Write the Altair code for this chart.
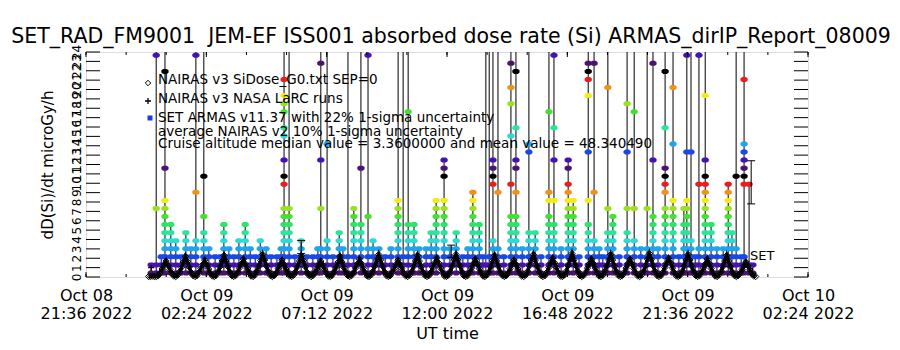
import altair as alt
import pandas as pd

FONT = "DejaVu Sans"
W, H = 722, 225

# ---------------- data ----------------
# quantised ARMAS dose-rate levels (microGy/h), read from the y positions of the dots
dose_levels = [0.43, 1.29, 2.15, 3.01, 3.87, 4.73, 5.59, 6.45, 7.31, 8.17, 9.03, 9.89,
               10.75, 11.61, 12.47, 13.33, 14.19, 15.05, 15.91, 16.77, 17.63, 18.49,
               19.35, 20.21, 21.07, 21.93, 22.79, 23.65]
spike_value = 300.0   # excursions far above the 24 microGy/h top of the axis

# ARMAS columns: minutes after 2022-10-09 00:00 UT, and the levels visited (S = off scale)
armas_minute = [12, 24, 36, 45, 59, 71, 83, 95, 107, 119,
                138, 150, 165, 177, 186, 198, 210, 222, 237, 249,
                261, 273, 287, 299, 313, 323, 330, 342, 356, 371,
                385, 399, 411, 418, 433, 447, 462, 471, 483, 497,
                514, 531, 543, 557, 572, 586, 603, 615, 627, 641,
                653, 670, 682, 694, 713, 727, 742, 758, 770, 782,
                797, 806, 813, 821, 830, 842, 856, 873, 885, 900,
                916, 931, 945, 964, 976, 993, 1010, 1022, 1036, 1058,
                1072, 1084, 1093, 1105, 1117, 1132, 1151, 1168, 1184, 1199,
                1213, 1225, 1242, 1261, 1275, 1287, 1294, 1304, 1314, 1323,
                1338, 1352, 1366, 1381, 1393, 1402, 1412, 1424, 1431, 1443, 1452]
armas_columns = [
    "0 1", "0 1 8 27 S", "0 1 2", "0 1 2 3 4 5 6 7 8 9 13 25 S", "0 1 2 3 4 5 6",
    "0 1 2 3 4", "0 1 2", "0 1 2 3 4 5", "0 1 2 3", "0 1 2 3 4 10 27 S",
    "0 1 2 3 4 5 7 12 S", "0 1 2 3", "0 1 2", "0 1 2", "0 1 2 3 4 5 6",
    "0 1 2 3", "0 1 2", "0 1 2 3 4", "0 1 2 3 4 5 6", "0 1 2 3",
    "0 1 2", "0 1 2 3 4", "0 1 2 3", "0 1 2", "0 1 2",
    "0 1 2 3", "0 1 2 3 4 5 6 7 8 11 12 14 17 18 20 21 22 24 S", "0 1 2 3 4 5 6 7 8 S", "0 1 2", "0 1 2 3 4",
    "0 1 2", "0 1 2", "0 1 2 3", "0 1 2 3 8 14 26 S", "0 1 2 3 4 16 S",
    "0 1 2", "0 1 2 3 4 5", "0 1 2 3", "0 1 2 S", "0 1 2 3 4 5 6 7 8",
    "0 1 2 3 4 5 6 13 S", "0 1 2 3 7 27 S", "0 1 2 3 4", "0 1 2 3", "0 1 2",
    "0 1 2 3", "0 1 2 3 4 5 6 7 8 9 S", "0 1 2 S", "0 1 2 3 4 5 6 20 S", "0 1 2 3 4 5 6",
    "0 1 2 3", "0 1 2 3", "0 1 2 3 4 5", "0 1 2 3 4 5 6 7 8 9", "0 1 2 3 4 5 6 7 8 9 12 13 14",
    "0 1 2 3", "0 1 2 3 4 5", "0 1 2", "0 1 2 3", "0 1 2 3 4 5 6 7 8 9 10",
    "0 1 2 3 4 5 6", "0 1 2", "0 1 S", "0 1 2 S", "0 1 2 3 4 11 12 13 14 S",
    "0 1 2 3 10 S", "0 1 2", "0 1 2 3 4 5 6 7 11 17 21 23 26 S", "0 1 2 3 4 5 6 7 10 13 14 18 25 S", "0 1 2 3",
    "0 1 2 3 4 5 15 16 S", "0 1 2 3 4 5", "0 1 2", "0 1 2 3 4 5 6 7 9 10 20 S", "0 1 2 3 4 5 6 9 14 18 27 S",
    "0 1 2 3", "0 1 2 3 4 5 6 7 8 9 10 11 13 14", "0 1 2 3 4 5 6 7 8 9", "0 1 2", "0 1 2 3 4 5 6 9 15 22 24 25 26 S",
    "0 1 2 3 4 10 26 S", "0 1 2 3", "0 1 2", "0 1 2 3 4 5 8 23 S", "0 1 2 3 4 5 6 7",
    "0 1 2", "0 1 2 3 4 5 8 15 21 S", "0 1 2 3 4 8 20 S", "0 1 2 3", "0 1 2 3 8 S",
    "0 1 2 3 4 5 6 7 14 26 S", "0 1 2 3", "0 1 2 3 4 5 6 7 8 10 11 12 13 18 25 S", "0 1 2 3 4 5 6 7 8 9 16 23 S", "0 1 2",
    "0 1 2 3 4 5 6 8", "0 1 2 3 4 5 6 7 8 9 15 27 S", "0 1 2 3 4 15 S", "0 1 2", "0 1 2 3 11 27 S",
    "0 1 2 3 4 5 6 7 8 9 10 11 12 14 22 S", "0 1 2 3 4 5 6", "0 1 2 3", "0 1 2 3", "0 1 2 3 4 5 6 7 8 9 10 11",
    "0 1 2 3 4 5", "0 1 2 3 12 S", "0 1 2", "0 1 2 11 12 13 14 15 16 24 S", "0 1 11", "0 1",
]

# NAIRAS v3 model (regular model cadence), one row per half-orbit hump
nairas_start_minute = 5.9
nairas_step_minute = 4.627
nairas_values = [
    0.05, 0.05, 0.10, 0.05,
    0.05, 0.15, 0.45, 0.85, 1.30, 1.70, 1.25, 0.80, 0.40, 0.10,
    0.05, 0.20, 0.55, 1.00, 1.60, 2.20, 1.65, 1.05, 0.50, 0.15,
    0.05, 0.15, 0.50, 0.90, 1.35, 1.80, 1.30, 0.85, 0.40, 0.10,
    0.05, 0.20, 0.60, 1.10, 1.70, 2.30, 1.70, 1.10, 0.55, 0.15,
    0.05, 0.15, 0.50, 0.95, 1.40, 1.90, 1.40, 0.90, 0.45, 0.10,
    0.05, 0.20, 0.60, 1.15, 1.75, 2.40, 1.80, 1.15, 0.55, 0.15,
    0.05, 0.15, 0.45, 0.90, 1.35, 1.80, 1.35, 0.85, 0.40, 0.10,
    0.05, 0.20, 0.55, 1.10, 1.70, 2.30, 1.75, 1.10, 0.50, 0.15,
    0.05, 0.15, 0.45, 0.85, 1.30, 1.70, 1.30, 0.80, 0.40, 0.10,
    0.05, 0.20, 0.55, 1.05, 1.60, 2.20, 1.60, 1.00, 0.50, 0.15,
    0.05, 0.15, 0.50, 0.95, 1.40, 1.90, 1.45, 0.90, 0.45, 0.10,
    0.05, 0.20, 0.60, 1.15, 1.80, 2.40, 1.80, 1.15, 0.55, 0.15,
    0.05, 0.15, 0.50, 0.90, 1.35, 1.80, 1.35, 0.90, 0.40, 0.10,
    0.05, 0.20, 0.55, 1.10, 1.70, 2.30, 1.70, 1.10, 0.50, 0.15,
    0.05, 0.15, 0.50, 1.00, 1.50, 2.00, 1.50, 0.95, 0.45, 0.10,
    0.05, 0.20, 0.60, 1.15, 1.80, 2.40, 1.80, 1.20, 0.55, 0.15,
    0.05, 0.15, 0.50, 0.95, 1.45, 1.90, 1.40, 0.90, 0.45, 0.10,
    0.05, 0.20, 0.55, 1.10, 1.75, 2.30, 1.70, 1.10, 0.50, 0.15,
    0.05, 0.15, 0.45, 0.90, 1.35, 1.80, 1.35, 0.85, 0.40, 0.10,
    0.05, 0.20, 0.60, 1.20, 1.80, 2.40, 1.80, 1.15, 0.55, 0.15,
    0.05, 0.15, 0.50, 1.00, 1.50, 2.00, 1.50, 1.00, 0.45, 0.10,
    0.05, 0.20, 0.60, 1.20, 1.85, 2.50, 1.85, 1.20, 0.60, 0.15,
    0.05, 0.15, 0.50, 0.95, 1.40, 1.90, 1.45, 0.95, 0.45, 0.10,
    0.05, 0.20, 0.60, 1.15, 1.80, 2.40, 1.80, 1.15, 0.55, 0.15,
    0.05, 0.15, 0.50, 0.95, 1.45, 1.90, 1.40, 0.90, 0.45, 0.10,
    0.05, 0.20, 0.60, 1.20, 1.90, 2.50, 1.85, 1.20, 0.60, 0.15,
    0.05, 0.15, 0.50, 1.00, 1.50, 2.00, 1.50, 0.95, 0.45, 0.10,
    0.05, 0.20, 0.60, 1.15, 1.80, 2.40, 1.80, 1.15, 0.55, 0.15,
    0.05, 0.15, 0.50, 0.95, 1.40, 1.90, 1.40, 0.90, 0.45, 0.10,
    0.05, 0.20, 0.55, 1.10, 1.70, 2.30, 1.70, 1.10, 0.50, 0.15,
    0.05, 0.15, 0.40, 0.80, 1.20, 1.60, 1.20, 0.75, 0.35, 0.10,
    0.05,
]

# NAIRAS v3 NASA LaRC runs
larc_minute = [12, 1445]
larc_value = [1.0, 0.9]

# 1-sigma uncertainty bars
err_minute = [371, 730, 1448]
err_low = [2.5, 2.1, 7.8]
err_high = [3.9, 3.4, 12.4]

# axis ticks (minutes after 2022-10-09 00:00 UT)
major_tick_minute = [-144, 144, 432, 720, 1008, 1296, 1584]
minor_tick_minute = [-144, -48, 48, 144, 240, 336, 432, 528, 624, 720, 816, 912,
                     1008, 1104, 1200, 1296, 1392, 1488, 1584]
y_ticks = list(range(0, 25))

title_text = "SET_RAD_FM9001\u00a0 JEM-EF ISS001 absorbed dose rate (Si) ARMAS_dirIP_Report_08009"
legend_lines = [
    "NAIRAS v3 SiDose_G0.txt SEP=0",
    "NAIRAS v3 NASA LaRC runs",
    "SET ARMAS v11.37 with 22% 1-sigma uncertainty",
    "average NAIRAS v2 10% 1-sigma uncertainty",
    "Cruise altitude median value = 3.3600000 and mean value = 48.340490",
]

# colour table cycling with the quantised level
level_colors = ["#4c1272", "#4412b4", "#1848ea", "#1ca4f0", "#2adcd2", "#28e6a0", "#2ae668",
                "#40e42a", "#9ae21e", "#f2ec12", "#f0921a", "#ec1c1c", "#000000"]

# ---------------- build tables ----------------
BASE_MS = int(pd.Timestamp("2022-10-09T00:00:00Z").timestamp() * 1000)


def ms(minute):
    return BASE_MS + int(round(minute * 60000))


rows = []
for ci, (m, col) in enumerate(zip(armas_minute, armas_columns)):
    for si, tok in enumerate(col.split()):
        if tok == "S":
            rows.append(dict(t=ms(m), v=spike_value, col=ci, seq=si, cidx=12, spike=1))
        else:
            lvl = int(tok)
            rows.append(dict(t=ms(m), v=dose_levels[lvl], col=ci, seq=si, cidx=lvl % 13, spike=0))
armas_df = pd.DataFrame(rows)
armas_pts = armas_df[armas_df.spike == 0]

nairas_df = pd.DataFrame({
    "t": [ms(nairas_start_minute + i * nairas_step_minute) for i in range(len(nairas_values))],
    "v": nairas_values,
})
larc_df = pd.DataFrame({"t": [ms(m) for m in larc_minute], "v": larc_value})
err_df = pd.DataFrame({"t": [ms(m) for m in err_minute], "lo": err_low, "hi": err_high})
major_df = pd.DataFrame({"t": [ms(m) for m in major_tick_minute]})
minor_df = pd.DataFrame({"t": [ms(m) for m in minor_tick_minute]})
ytick_df = pd.DataFrame({"v": y_ticks})

xscale = alt.Scale(type="utc", domain=[ms(-144), ms(1584)])
yscale = alt.Scale(domain=[0, 24], nice=False, zero=False)

x_axis = alt.Axis(
    values=[ms(m) for m in major_tick_minute],
    labelExpr="[utcFormat(datum.value, '%b %d'), utcFormat(datum.value, '%H:%M %Y')]",
    labelFont=FONT, labelFontSize=16, labelLineHeight=18, labelColor="black",
    labelPadding=10, labelOverlap=False, labelFlush=False,
    domain=False, ticks=False, tickSize=0, grid=False,
    title="UT time", titleFont=FONT, titleFontSize=16, titleFontWeight="normal",
    titleColor="black", titleY=56, titleBaseline="middle",
)
y_axis = alt.Axis(
    values=y_ticks, labelAngle=-90, labelFont=FONT, labelFontSize=12, labelColor="black",
    labelPadding=3, labelOverlap=False, labelFlush=False, labelAlign="center",
    labelBaseline="bottom",
    domain=False, ticks=False, tickSize=0, grid=False,
    title="dD(Si)/dt microGy/h", titleFont=FONT, titleFontSize=15, titleFontWeight="normal",
    titleColor="black", titleAngle=-90, titleX=-39, titleY=H / 2,
    titleAlign="center", titleBaseline="middle",
)


def X():
    return alt.X("t:T", scale=xscale, axis=x_axis)


def Y(f="v"):
    return alt.Y(f"{f}:Q", scale=yscale, axis=y_axis)


DOT = "M-0.5,-0.7L0.5,-0.7L1,-0.3L1,0.3L0.5,0.7L-0.5,0.7L-1,0.3L-1,-0.3Z"
PLUS = "M-1,0L1,0M0,-1L0,1"
HBAR = "M-1,0L1,0"

armas_line = alt.Chart(armas_df).mark_line(color="black", strokeWidth=1, clip=True).encode(
    x=X(), y=Y(), detail="col:N", order="seq:Q")

armas_dots = alt.Chart(armas_pts).mark_point(
    shape=DOT, filled=True, size=52, opacity=1, strokeWidth=0, clip=True).encode(
    x=X(), y=Y(),
    color=alt.Color("cidx:O", scale=alt.Scale(domain=list(range(13)), range=level_colors), legend=None))

nairas_band = alt.Chart(nairas_df).mark_line(color="black", strokeWidth=3.5).encode(x=X(), y=Y())
nairas = alt.Chart(nairas_df).mark_point(
    shape="diamond", filled=False, color="black", size=40, strokeWidth=1, opacity=1).encode(x=X(), y=Y())

larc = alt.Chart(larc_df).mark_point(
    shape=PLUS, filled=False, color="black", size=36, strokeWidth=1.2, opacity=1).encode(x=X(), y=Y())

err_rule = alt.Chart(err_df).mark_rule(color="black", strokeWidth=1).encode(
    x=X(), y=Y("lo"), y2="hi:Q")
err_cap_lo = alt.Chart(err_df).mark_point(
    shape=HBAR, filled=False, color="black", size=64, strokeWidth=1, opacity=1).encode(x=X(), y=Y("lo"))
err_cap_hi = alt.Chart(err_df).mark_point(
    shape=HBAR, filled=False, color="black", size=64, strokeWidth=1, opacity=1).encode(x=X(), y=Y("hi"))

# inward ticks
ytick_l = alt.Chart(ytick_df).mark_rule(color="black", strokeWidth=1).encode(
    y=Y("v"), x=alt.value(0), x2=alt.value(14))
ytick_r = alt.Chart(ytick_df).mark_rule(color="black", strokeWidth=1).encode(
    y=Y("v"), x=alt.value(W - 14), x2=alt.value(W))
xmaj_b = alt.Chart(major_df).mark_rule(color="black", strokeWidth=1).encode(
    x=X(), y=alt.value(H), y2=alt.value(H - 5))
xmaj_t = alt.Chart(major_df).mark_rule(color="black", strokeWidth=1).encode(
    x=X(), y=alt.value(0), y2=alt.value(5))
xmin_b = alt.Chart(minor_df).mark_rule(color="black", strokeWidth=1).encode(
    x=X(), y=alt.value(H), y2=alt.value(H - 3))
xmin_t = alt.Chart(minor_df).mark_rule(color="black", strokeWidth=1).encode(
    x=X(), y=alt.value(0), y2=alt.value(3))

# chart title (drawn as a text mark so it sits where the reference has it)
title_mark = alt.Chart(ytick_df).mark_text(
    text=title_text, font=FONT, fontSize=20.5, align="center", baseline="middle", color="black"
).encode(x=alt.value(W / 2 + 4), y=alt.value(-15)).transform_filter("datum.v == 0")

# in-plot legend
legend_y = [28, 47, 66, 80, 92]
legend_layers = []
for txt, ly in zip(legend_lines, legend_y):
    legend_layers.append(
        alt.Chart(ytick_df).mark_text(
            text=txt, font=FONT, fontSize=13.5, align="left", baseline="middle", color="black"
        ).encode(x=alt.value(72), y=alt.value(ly)).transform_filter("datum.v == 0"))
sym_diamond = alt.Chart(ytick_df).mark_point(
    shape="diamond", filled=False, color="black", size=30, strokeWidth=1, opacity=1
).encode(x=alt.value(62), y=alt.value(31)).transform_filter("datum.v == 0")
sym_plus = alt.Chart(ytick_df).mark_point(
    shape=PLUS, filled=False, color="black", size=36, strokeWidth=1.3, opacity=1
).encode(x=alt.value(62), y=alt.value(49)).transform_filter("datum.v == 0")
sym_square = alt.Chart(ytick_df).mark_square(
    color="#1a3ae8", size=25, opacity=1
).encode(x=alt.value(64), y=alt.value(66)).transform_filter("datum.v == 0")
set_label = alt.Chart(ytick_df).mark_text(
    text="SET", font=FONT, fontSize=13, align="left", baseline="middle", color="black"
).encode(x=alt.value(664), y=alt.value(204)).transform_filter("datum.v == 0")

chart = alt.layer(
    armas_line, armas_dots, nairas_band, nairas, larc, err_rule, err_cap_lo, err_cap_hi,
    ytick_l, ytick_r, xmaj_b, xmaj_t, xmin_b, xmin_t,
    *legend_layers, sym_diamond, sym_plus, sym_square, set_label, title_mark,
).properties(
    width=W, height=H,
    autosize=alt.AutoSizeParams(type="none"),
    padding={"left": 86, "top": 52, "right": 92, "bottom": 73},
).configure_view(stroke="black", strokeWidth=1).configure(background="white")

chart.save("out.html", embed_options={"renderer": "svg", "actions": False})
